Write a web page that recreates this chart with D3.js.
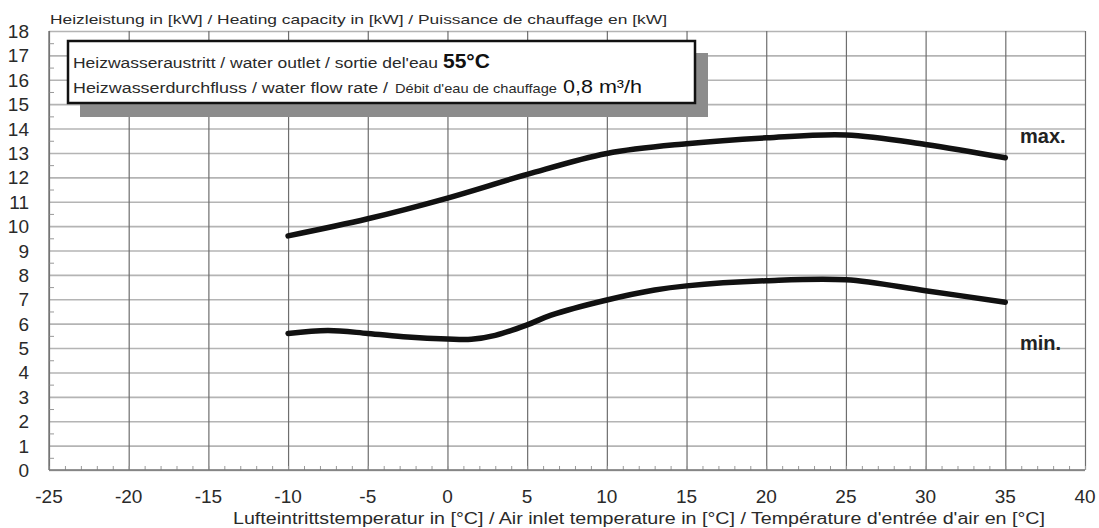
<!DOCTYPE html>
<html>
<head>
<meta charset="utf-8">
<script src="https://cdn.jsdelivr.net/npm/d3@7"></script>
<style>
  body { margin: 0; background: #fff; }
  text { font-family: "Liberation Sans", Arial, sans-serif; fill: #2a2a2a; }
</style>
</head>
<body>
<div id="chart"></div>
<script>
const maxTemp = [-10, -5, 0, 5, 10, 15, 20, 25, 30, 35];
const maxKw = [9.6, 10.3, 11.15, 12.12, 12.98, 13.38, 13.62, 13.74, 13.35, 12.8];

const minTemp = [-10, -7.5, -5, -2.5, 0, 1.5, 3, 5, 6.5, 10, 13, 15, 20, 25, 30, 35];
const minKw = [5.6, 5.72, 5.6, 5.45, 5.37, 5.36, 5.52, 5.95, 6.35, 6.97, 7.38, 7.55, 7.76, 7.8, 7.35, 6.88];

const xTicks = [-25, -20, -15, -10, -5, 0, 5, 10, 15, 20, 25, 30, 35, 40];
const yTicks = d3.range(0, 19);

const yTitle = "Heizleistung in [kW] / Heating capacity in [kW] / Puissance de chauffage en [kW]";
const xTitle = "Lufteintrittstemperatur in [°C] / Air inlet temperature in [°C] / Température d'entrée d'air en [°C]";

const width = 1099;
const height = 528;
const x = d3.scaleLinear().domain([-25, 40]).range([49, 1085]);
const y = d3.scaleLinear().domain([0, 18]).range([470, 31]);

const svg = d3.select("#chart")
    .append("svg")
    .attr("width", width)
    .attr("height", height);

// horizontale gitterlinien
svg.append("g")
    .attr("transform", `translate(${x.range()[0]},0)`)
    .call(d3.axisRight(y).tickValues(yTicks).tickSize(x.range()[1] - x.range()[0]).tickFormat(""))
    .call(g => g.select(".domain").remove())
    .call(g => g.selectAll("line").attr("stroke", "#b4b4b4").attr("stroke-width", 1.6));

// vertikale gitterlinien
svg.append("g")
    .attr("transform", `translate(0,${y.range()[1]})`)
    .call(d3.axisBottom(x).tickValues(xTicks).tickSize(y.range()[0] - y.range()[1]).tickFormat(""))
    .call(g => g.select(".domain").remove())
    .call(g => g.selectAll("line").attr("stroke", "#6e6e6e").attr("stroke-width", 1.2));

// kleine striche
svg.append("g")
    .attr("transform", `translate(0,${y.range()[0]})`)
    .call(d3.axisTop(x).tickValues(d3.range(-25, 41, 1)).tickSize(4).tickFormat(""))
    .call(g => g.select(".domain").remove())
    .call(g => g.selectAll("line").attr("stroke", "#999"));

svg.append("g")
    .attr("transform", `translate(${x.range()[0]},0)`)
    .call(d3.axisRight(y).tickValues(d3.range(0.5, 18, 1)).tickSize(5).tickFormat(""))
    .call(g => g.select(".domain").remove())
    .call(g => g.selectAll("line").attr("stroke", "#999"));

// rahmen links und unten
svg.append("line")
    .attr("x1", x(-25)).attr("x2", x(-25))
    .attr("y1", y(0)).attr("y2", y(18))
    .attr("stroke", "#777").attr("stroke-width", 1.4);
svg.append("line")
    .attr("x1", x(-25)).attr("x2", x(40))
    .attr("y1", y(0)).attr("y2", y(0))
    .attr("stroke", "#777").attr("stroke-width", 1.4);

// achsenbeschriftung
svg.append("g")
    .selectAll("text")
    .data(yTicks)
    .join("text")
    .attr("x", 29)
    .attr("y", d => y(d) + 7)
    .attr("text-anchor", "end")
    .attr("font-size", 19)
    .text(d => d);

svg.append("g")
    .selectAll("text")
    .data(xTicks)
    .join("text")
    .attr("x", d => x(d))
    .attr("y", 503)
    .attr("text-anchor", "middle")
    .attr("font-size", 19)
    .text(d => d);

svg.append("text")
    .attr("x", 50)
    .attr("y", 24)
    .attr("font-size", 13)
    .attr("textLength", 617)
    .attr("lengthAdjust", "spacingAndGlyphs")
    .text(yTitle);

svg.append("text")
    .attr("x", 233)
    .attr("y", 524)
    .attr("font-size", 16)
    .attr("textLength", 812)
    .attr("lengthAdjust", "spacingAndGlyphs")
    .text(xTitle);

// infokasten mit schatten
svg.append("rect")
    .attr("x", 80).attr("y", 53)
    .attr("width", 628).attr("height", 64)
    .attr("fill", "#8c8c8c");
svg.append("rect")
    .attr("x", 68).attr("y", 41)
    .attr("width", 627).attr("height", 62)
    .attr("fill", "#fff")
    .attr("stroke", "#111")
    .attr("stroke-width", 2.5);

const line1 = svg.append("text").attr("x", 73).attr("y", 68).attr("font-size", 14);
line1.append("tspan").attr("textLength", 365).attr("lengthAdjust", "spacingAndGlyphs")
    .text("Heizwasseraustritt / water outlet / sortie del'eau");
line1.append("tspan").attr("x", 443).attr("font-size", 21).attr("font-weight", "bold").style("fill", "#111")
    .text("55°C");

const line2 = svg.append("text").attr("x", 73).attr("y", 93).attr("font-size", 14);
line2.append("tspan").attr("textLength", 320).attr("lengthAdjust", "spacingAndGlyphs")
    .text("Heizwasserdurchfluss / water flow rate / ");
line2.append("tspan").attr("x", 395).attr("font-size", 13.5)
    .attr("textLength", 162).attr("lengthAdjust", "spacingAndGlyphs")
    .text("Débit d'eau de chauffage");
line2.append("tspan").attr("x", 563).attr("font-size", 19).style("fill", "#111")
    .attr("textLength", 79).attr("lengthAdjust", "spacingAndGlyphs")
    .text("0,8 m³/h");

// kurven
const line = d3.line()
    .x(d => x(d[0]))
    .y(d => y(d[1]))
    .curve(d3.curveCatmullRom.alpha(0.5));

const curves = [
  {name: "max.", pts: d3.zip(maxTemp, maxKw), labelY: 143},
  {name: "min.", pts: d3.zip(minTemp, minKw), labelY: 350},
];

svg.append("g")
    .selectAll("path")
    .data(curves)
    .join("path")
    .attr("d", d => line(d.pts))
    .attr("fill", "none")
    .attr("stroke", "#111")
    .attr("stroke-width", 5.5)
    .attr("stroke-linecap", "round")
    .attr("stroke-linejoin", "round");

svg.append("g")
    .selectAll("text")
    .data(curves)
    .join("text")
    .attr("x", 1020)
    .attr("y", d => d.labelY)
    .attr("font-size", 20)
    .attr("font-weight", "bold")
    .style("fill", "#222")
    .text(d => d.name);
</script>
</body>
</html>
